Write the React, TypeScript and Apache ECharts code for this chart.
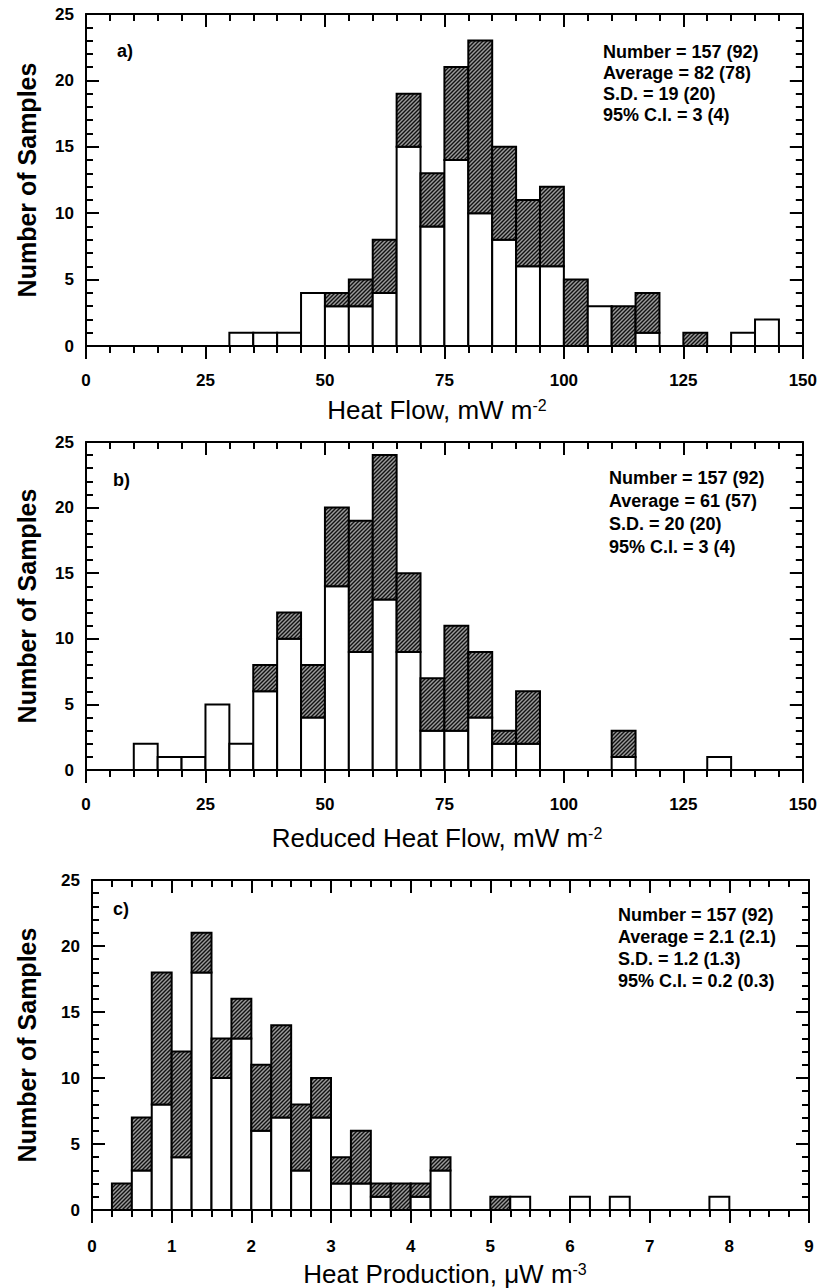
import React, { useEffect, useRef } from "react";
import * as echarts from "echarts";

// ---- Data (bin start, total count, subset count) ----
// a) Heat flow, mW m^-2, 5 mW bins
const hfBinStart = [30, 35, 40, 45, 50, 55, 60, 65, 70, 75, 80, 85, 90, 95, 100, 105, 110, 115, 125, 135, 140];
const hfTotal = [1, 1, 1, 4, 4, 5, 8, 19, 13, 21, 23, 15, 11, 12, 5, 3, 3, 4, 1, 1, 2];
const hfSubset = [1, 1, 1, 4, 3, 3, 4, 15, 9, 14, 10, 8, 6, 6, 0, 3, 0, 1, 0, 1, 2];

// b) Reduced heat flow, mW m^-2, 5 mW bins
const rhfBinStart = [10, 15, 20, 25, 30, 35, 40, 45, 50, 55, 60, 65, 70, 75, 80, 85, 90, 110, 130];
const rhfTotal = [2, 1, 1, 5, 2, 8, 12, 8, 20, 19, 24, 15, 7, 11, 9, 3, 6, 3, 1];
const rhfSubset = [2, 1, 1, 5, 2, 6, 10, 4, 14, 9, 13, 9, 3, 3, 4, 2, 2, 1, 1];

// c) Heat production, uW m^-3, 0.25 bins
const hpBinStart = [0.25, 0.5, 0.75, 1.0, 1.25, 1.5, 1.75, 2.0, 2.25, 2.5, 2.75, 3.0, 3.25, 3.5, 3.75, 4.0, 4.25, 5.0, 5.25, 6.0, 6.5, 7.75];
const hpTotal = [2, 7, 18, 12, 21, 13, 16, 11, 14, 8, 10, 4, 6, 2, 2, 2, 4, 1, 1, 1, 1, 1];
const hpSubset = [0, 3, 8, 4, 18, 10, 13, 6, 7, 3, 7, 2, 2, 1, 0, 1, 3, 0, 1, 1, 1, 1];

const panelLetters = ["a)", "b)", "c)"];
const xTitles = ["Heat Flow, mW m{sup|-2}", "Reduced Heat Flow, mW m{sup|-2}", "Heat Production, \u03bcW m{sup|-3}"];
const yTitle = "Number of Samples";
const statsA = ["Number = 157 (92)", "Average = 82 (78)", "S.D. = 19 (20)", "95% C.I. = 3 (4)"];
const statsB = ["Number = 157 (92)", "Average = 61 (57)", "S.D. = 20 (20)", "95% C.I. = 3 (4)"];
const statsC = ["Number = 157 (92)", "Average = 2.1 (2.1)", "S.D. = 1.2 (1.3)", "95% C.I. = 0.2 (0.3)"];

const FONT = "'Liberation Sans', Arial, Helvetica, sans-serif";

function makeHatch(): string {
  const c = document.createElement("canvas");
  c.width = 4;
  c.height = 4;
  const ctx = c.getContext("2d")!;
  ctx.fillStyle = "#9a9a9a";
  ctx.fillRect(0, 0, 4, 4);
  ctx.strokeStyle = "#111";
  ctx.lineWidth = 1.4;
  ctx.beginPath();
  ctx.moveTo(-1, 5); ctx.lineTo(5, -1);
  ctx.moveTo(-3, 3); ctx.lineTo(3, -3);
  ctx.moveTo(1, 7); ctx.lineTo(7, 1);
  ctx.stroke();
  return c.toDataURL();
}

export default function App() {
  const ref = useRef<HTMLDivElement>(null);

  useEffect(() => {
    if (!ref.current) return;
    const chart = echarts.init(ref.current, undefined, { renderer: "svg" });
    const hatch = { image: makeHatch(), repeat: "repeat", imageWidth: 4, imageHeight: 4 };

    const grids = [
      { left: 86, right: 17, top: 14, height: 332 },
      { left: 86, right: 17, top: 442, height: 328 },
      { left: 92, right: 11, top: 880, height: 330 },
    ];
    const xCfg = [
      { max: 150, interval: 25, minor: 5, bw: 5, labelMargin: 26 },
      { max: 150, interval: 25, minor: 5, bw: 5, labelMargin: 26 },
      { max: 9, interval: 1, minor: 4, bw: 0.25, labelMargin: 28 },
    ];
    const titlePos = [
      { x: 437, y: 410 },
      { x: 437, y: 838 },
      { x: 445, y: 1274 },
    ];
    const datasets = [
      hfBinStart.map((s, i) => [s, hfTotal[i], hfSubset[i]]),
      rhfBinStart.map((s, i) => [s, rhfTotal[i], rhfSubset[i]]),
      hpBinStart.map((s, i) => [s, hpTotal[i], hpSubset[i]]),
    ];

    const lineStyle = { color: "#000", width: 2 };
    const xAxes: any[] = [];
    const yAxes: any[] = [];
    grids.forEach((g, gi) => {
      const xc = xCfg[gi];
      const common = {
        type: "value",
        gridIndex: gi,
        min: 0,
        max: xc.max,
        interval: xc.interval,
        axisLine: { show: true, onZero: false, lineStyle },
        splitLine: { show: false },
        minorSplitLine: { show: false },
        minorTick: { show: true, splitNumber: xc.minor, length: 7, lineStyle },
      };
      xAxes.push({
        ...common,
        position: "bottom",
        axisTick: { show: true, inside: false, length: 13, lineStyle },
        axisLabel: { color: "#000", fontSize: 17, fontWeight: "bold", fontFamily: FONT, margin: xc.labelMargin },
      });
      xAxes.push({
        ...common,
        position: "top",
        axisTick: { show: true, inside: true, length: 13, lineStyle },
        axisLabel: { show: false },
      });
      const ycommon = {
        type: "value",
        gridIndex: gi,
        min: 0,
        max: 25,
        interval: 5,
        axisLine: { show: true, onZero: false, lineStyle },
        splitLine: { show: false },
        minorSplitLine: { show: false },
        axisTick: { show: true, inside: true, length: 13, lineStyle },
        minorTick: { show: true, splitNumber: 5, length: 7, lineStyle },
      };
      yAxes.push({
        ...ycommon,
        position: "left",
        axisLabel: { color: "#000", fontSize: 17, fontWeight: "bold", fontFamily: FONT, margin: 12 },
      });
      yAxes.push({ ...ycommon, position: "right", axisLabel: { show: false } });
    });

    const series = datasets.map((data, gi) => ({
      type: "custom",
      xAxisIndex: gi * 2,
      yAxisIndex: gi * 2,
      data,
      encode: { x: 0, y: 1 },
      clip: false,
      renderItem: (params: any, api: any) => {
        const start = api.value(0);
        const total = api.value(1);
        const subset = api.value(2);
        const bw = xCfg[gi].bw;
        const p0 = api.coord([start, 0]);
        const p1 = api.coord([start + bw, subset]);
        const p2 = api.coord([start + bw, total]);
        const children: any[] = [];
        if (subset > 0) {
          children.push({
            type: "rect",
            shape: { x: p0[0], y: p1[1], width: p1[0] - p0[0], height: p0[1] - p1[1] },
            style: { fill: "#fff", stroke: "#000", lineWidth: 2 },
          });
        }
        if (total > subset) {
          children.push({
            type: "rect",
            shape: { x: p0[0], y: p2[1], width: p2[0] - p0[0], height: p1[1] - p2[1] },
            style: { fill: hatch, stroke: "#000", lineWidth: 2 },
          });
        }
        return { type: "group", children };
      },
    }));

    const graphics: any[] = [];
    const statsAll = [statsA, statsB, statsC];
    const statsPos = [
      { x: 603, y: 52, dy: 21 },
      { x: 609, y: 478, dy: 23 },
      { x: 618, y: 915, dy: 22 },
    ];
    const letterPos = [
      { x: 117, y: 51 },
      { x: 113, y: 480 },
      { x: 113, y: 909 },
    ];
    grids.forEach((g, gi) => {
      graphics.push({
        type: "text",
        x: titlePos[gi].x,
        y: titlePos[gi].y,
        style: {
          text: xTitles[gi],
          fontSize: 26,
          fontFamily: FONT,
          fill: "#000",
          align: "center",
          verticalAlign: "middle",
          rich: { sup: { fontSize: 16, fontFamily: FONT, fill: "#000", verticalAlign: "top" } },
        },
      });
      graphics.push({
        type: "text",
        x: 27,
        y: g.top + g.height / 2,
        rotation: Math.PI / 2,
        style: {
          text: yTitle,
          fontSize: 25,
          fontWeight: "bold",
          fontFamily: FONT,
          fill: "#000",
          align: "center",
          verticalAlign: "middle",
        },
      });
      graphics.push({
        type: "text",
        x: letterPos[gi].x,
        y: letterPos[gi].y,
        style: { text: panelLetters[gi], fontSize: 18, fontWeight: "bold", fontFamily: FONT, fill: "#000", verticalAlign: "middle" },
      });
      statsAll[gi].forEach((t, li) => {
        graphics.push({
          type: "text",
          x: statsPos[gi].x,
          y: statsPos[gi].y + li * statsPos[gi].dy,
          style: { text: t, fontSize: 18, fontWeight: "bold", fontFamily: FONT, fill: "#000", verticalAlign: "middle" },
        });
      });
    });

    chart.setOption({
      animation: false,
      backgroundColor: "#fff",
      grid: grids.map((g) => ({ ...g, containLabel: false })),
      xAxis: xAxes,
      yAxis: yAxes,
      series,
      graphic: graphics,
    });

    return () => chart.dispose();
  }, []);

  return (
    <div
      ref={ref}
      style={{ position: "absolute", left: 0, top: 0, width: 820, height: 1288, background: "#fff" }}
    />
  );
}
